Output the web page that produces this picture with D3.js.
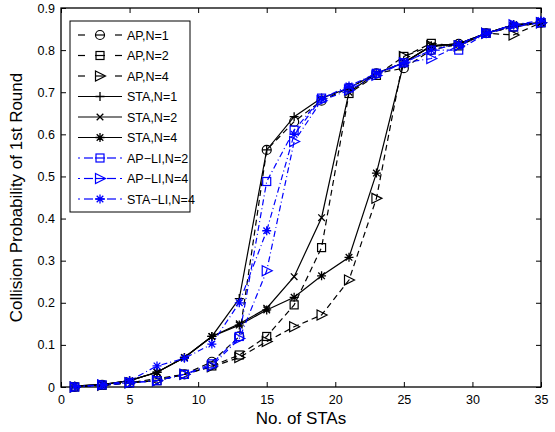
<!DOCTYPE html>
<html><head><meta charset="utf-8">
<script src="https://cdn.jsdelivr.net/npm/d3@7"></script>
<style>body{margin:0;background:#fff}svg{display:block}text{font-family:"Liberation Sans",Arial,sans-serif}</style>
</head><body><svg id="c" width="555" height="432"></svg>
<script>
const xValues = [1,3,5,7,9,11,13,15,17,19,21,23,25,27,29,31,33,35];
const apN1    = [0,0.005,0.01,0.02,0.03,0.06,0.12,0.563,0.63,0.68,0.71,0.745,0.757,0.80,0.815,0.84,0.855,0.865];
const apN2    = [0,0.004,0.01,0.015,0.03,0.05,0.076,0.12,0.195,0.331,0.697,0.74,0.785,0.816,0.81,0.84,0.855,0.865];
const apN4    = [0,0.004,0.01,0.015,0.03,0.048,0.07,0.108,0.143,0.171,0.254,0.448,0.785,0.81,0.81,0.84,0.836,0.865];
const staN1   = [0.002,0.005,0.015,0.035,0.07,0.12,0.21,0.563,0.642,0.686,0.71,0.745,0.77,0.81,0.815,0.84,0.86,0.865];
const staN2   = [0.002,0.006,0.015,0.035,0.07,0.12,0.15,0.187,0.262,0.402,0.70,0.745,0.77,0.81,0.815,0.84,0.86,0.865];
const staN4   = [0.002,0.006,0.015,0.035,0.07,0.12,0.147,0.183,0.213,0.264,0.308,0.508,0.77,0.81,0.815,0.84,0.86,0.865];
const apLiN2  = [0,0.005,0.01,0.015,0.03,0.055,0.12,0.488,0.61,0.686,0.71,0.745,0.77,0.80,0.80,0.84,0.855,0.865];
const apLiN4  = [0,0.005,0.01,0.015,0.03,0.05,0.115,0.276,0.583,0.68,0.705,0.74,0.77,0.78,0.81,0.84,0.86,0.865];
const staLiN4 = [0.002,0.005,0.015,0.05,0.068,0.102,0.2,0.371,0.60,0.685,0.715,0.745,0.77,0.80,0.815,0.84,0.86,0.87];
const xTicks = [0,5,10,15,20,25,30,35];
const yTicks = [0,0.1,0.2,0.3,0.4,0.5,0.6,0.7,0.8,0.9];
const seriesNames = ["AP,N=1","AP,N=2","AP,N=4","STA,N=1","STA,N=2","STA,N=4","AP\u2212LI,N=2","AP\u2212LI,N=4","STA\u2212LI,N=4"];

const series = [
  {name:seriesNames[0], v:apN1, color:"#000", dash:"6,4", marker:"circle"},
  {name:seriesNames[1], v:apN2, color:"#000", dash:"6,4", marker:"square"},
  {name:seriesNames[2], v:apN4, color:"#000", dash:"6,4", marker:"tri"},
  {name:seriesNames[3], v:staN1, color:"#000", dash:null, marker:"plus"},
  {name:seriesNames[4], v:staN2, color:"#000", dash:null, marker:"x"},
  {name:seriesNames[5], v:staN4, color:"#000", dash:null, marker:"star"},
  {name:seriesNames[6], v:apLiN2, color:"#0000ff", dash:"6,3,1,3", marker:"square"},
  {name:seriesNames[7], v:apLiN4, color:"#0000ff", dash:"6,3,1,3", marker:"tri"},
  {name:seriesNames[8], v:staLiN4, color:"#0000ff", dash:"6,3,1,3", marker:"star"}
];

const L=61,R=541,T=8,B=387;
const svg=d3.select("#c");
const x=d3.scaleLinear().domain([0,35]).range([L,R]);
const y=d3.scaleLinear().domain([0,0.9]).range([B,T]);

const ax=svg.append("g").attr("transform",`translate(0,${B})`).call(d3.axisBottom(x).tickValues(xTicks).tickSizeInner(-5).tickSizeOuter(0).tickPadding(8));
const axT=svg.append("g").attr("transform",`translate(0,${T})`).call(d3.axisTop(x).tickValues(xTicks).tickSizeInner(-5).tickSizeOuter(0).tickFormat(""));
const ay=svg.append("g").attr("transform",`translate(${L},0)`).call(d3.axisLeft(y).tickValues(yTicks).tickSizeInner(-5).tickSizeOuter(0).tickPadding(6).tickFormat(d=>d===0?"0":d3.format(".1f")(d)));
const ayR=svg.append("g").attr("transform",`translate(${R},0)`).call(d3.axisRight(y).tickValues(yTicks).tickSizeInner(-5).tickSizeOuter(0).tickFormat(""));
[ax,axT,ay,ayR].forEach(g=>{g.select(".domain").remove();g.selectAll("line").attr("stroke","#000");g.selectAll("text").attr("font-size",12.5).attr("fill","#000").attr("font-family","Liberation Sans,Arial,sans-serif");});
svg.append("rect").attr("x",L).attr("y",T).attr("width",R-L).attr("height",B-T).attr("fill","none").attr("stroke","#000").attr("stroke-width",1.3);

svg.append("text").attr("x",(L+R)/2).attr("y",424).attr("text-anchor","middle").attr("font-size",17).text("No. of STAs");
svg.append("text").attr("transform",`translate(22,${(T+B)/2}) rotate(-90)`).attr("text-anchor","middle").attr("font-size",17).text("Collision Probability of 1st Round");

function drawMarker(g,type,cx,cy,color){
  const s=4.5;
  if(type==="circle") g.append("circle").attr("cx",cx).attr("cy",cy).attr("r",s).attr("fill","none").attr("stroke",color).attr("stroke-width",1.2);
  else if(type==="square") g.append("rect").attr("x",cx-s+0.5).attr("y",cy-s+0.5).attr("width",2*s-1).attr("height",2*s-1).attr("fill","none").attr("stroke",color).attr("stroke-width",1.2);
  else if(type==="tri") g.append("path").attr("d",`M${cx-s},${cy-s-0.5}L${cx+s+1},${cy}L${cx-s},${cy+s+0.5}Z`).attr("fill","none").attr("stroke",color).attr("stroke-width",1.2);
  else {
    let d="";
    if(type==="plus"||type==="star") d+=`M${cx-s},${cy}H${cx+s}M${cx},${cy-s}V${cy+s}`;
    if(type==="x"||type==="star"){const k=3.3; d+=`M${cx-k},${cy-k}L${cx+k},${cy+k}M${cx-k},${cy+k}L${cx+k},${cy-k}`;}
    g.append("path").attr("d",d).attr("stroke",color).attr("fill","none").attr("stroke-width",1.3);
  }
}

const line=d3.line().x((d,i)=>x(xValues[i])).y(d=>y(d));
series.forEach(s=>{
  const g=svg.append("g");
  g.append("path").datum(s.v).attr("d",line).attr("fill","none").attr("stroke",s.color).attr("stroke-width",1.2).attr("stroke-dasharray",s.dash);
  s.v.forEach((v,i)=>drawMarker(g,s.marker,x(xValues[i]),y(v),s.color));
});

// legend
const lg=svg.append("g");
lg.append("rect").attr("x",70).attr("y",21).attr("width",120).attr("height",191).attr("fill","#fff").attr("stroke","#000");
series.forEach((s,i)=>{
  const yy=35+i*20.5;
  if(s.dash){
    const segs = s.color==="#000" ? [[78,85],[95,105],[115,122]] : [[78,80],[84,93],[95,105],[107,116],[120,122]];
    segs.forEach(p=>lg.append("line").attr("x1",p[0]).attr("x2",p[1]).attr("y1",yy).attr("y2",yy).attr("stroke",s.color).attr("stroke-width",1.2));
  } else {
    lg.append("line").attr("x1",78).attr("x2",122).attr("y1",yy).attr("y2",yy).attr("stroke",s.color).attr("stroke-width",1.2);
  }
  drawMarker(lg,s.marker,100,yy,s.color);
  lg.append("text").attr("x",127).attr("y",yy+4.5).attr("font-size",12.5).text(s.name);
});
</script></body></html>
